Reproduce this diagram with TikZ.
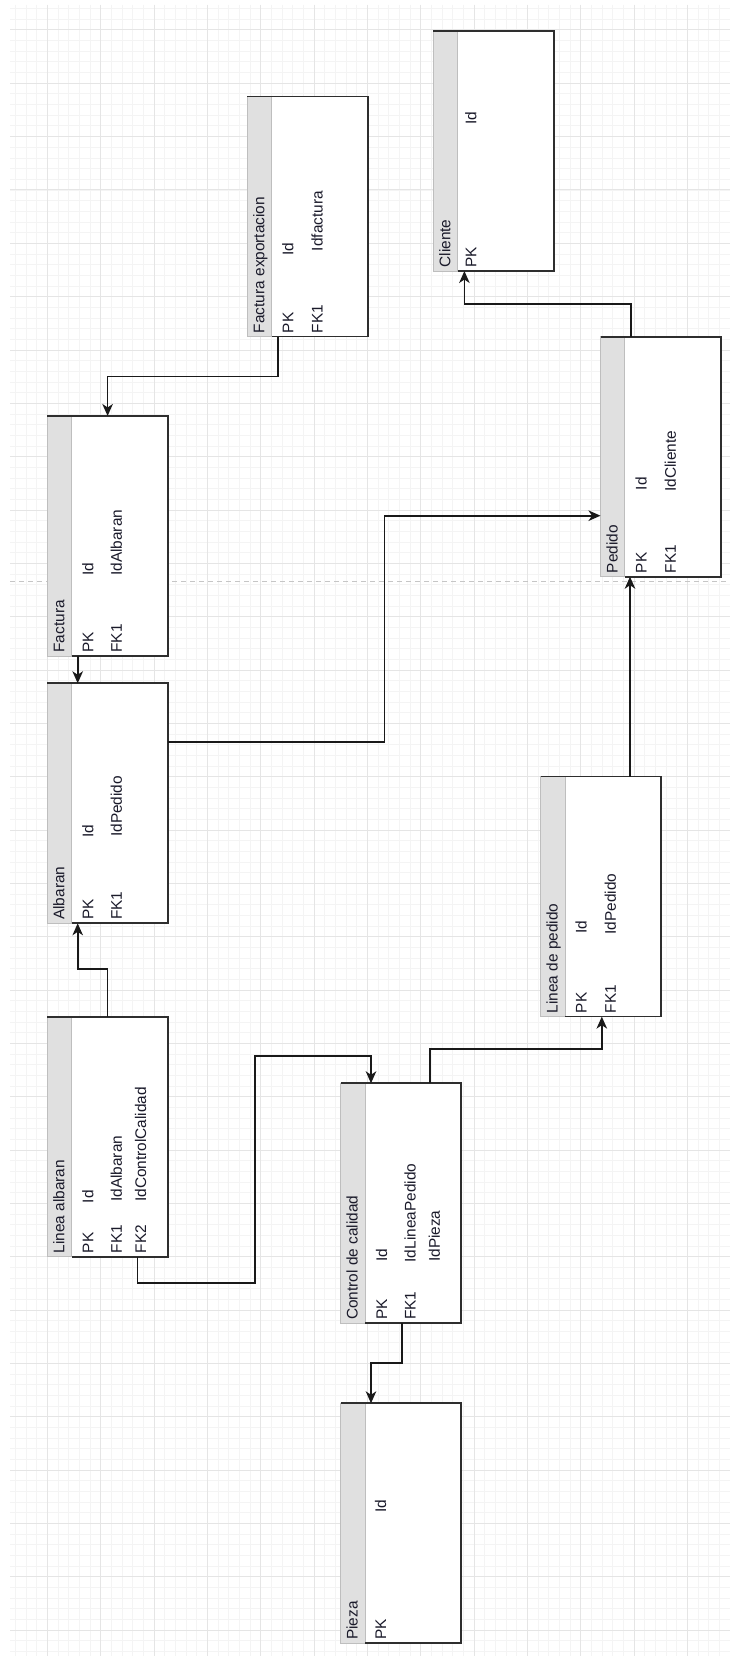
\documentclass[tikz,border=0pt]{standalone}
\usepackage{fontspec}
\setmainfont{Liberation Sans}
\usetikzlibrary{calc,arrows.meta}
\definecolor{gridminor}{HTML}{F4F4F4}
\definecolor{gridmajor}{HTML}{E5E5E5}
\definecolor{stripgray}{HTML}{E0E0E0}
\definecolor{edgegray}{HTML}{2E2E2E}
\definecolor{pagebreak}{HTML}{C6C6C6}
\definecolor{txtcol}{HTML}{1A1A2A}
\tikzset{
  tblbody/.style={rectangle, fill=white, draw=none, minimum width=120.4pt, minimum height=240pt, inner sep=0pt, outer sep=0pt},
  tbledge/.style={draw=edgegray, line width=1.7pt, line join=miter},
  stripbox/.style={fill=stripgray, draw=stripgray!85!black, line width=0.8pt},
  txt/.style={rotate=90, anchor=base west, inner sep=0pt, outer sep=0pt, font=\fontsize{15.4}{18}\selectfont, text=txtcol},
  conn/.style={draw=black!90, line width=1.7pt, -{Stealth[length=12pt,width=10.5pt,inset=3.5pt]}},
  gminor/.style={draw=gridminor, line width=1pt},
  gmajor/.style={draw=gridmajor, line width=1pt},
  pbreak/.style={draw=pagebreak, line width=1.5pt, dash pattern=on 5pt off 4pt},
}
\newcommand\erbox[4]{% name, left, top, title
  \node[tblbody] (#1) at ({#2+60.2},{#3+120}) {};
  \path[stripbox] (#1.north west) rectangle ($(#1.south west)+(24.3,0)$);
  \draw[tbledge] (#1.north west) -- (#1.north east) -- (#1.south east) -- ($(#1.south west)+(24.3,0)$);
  \node[txt] (#1-title) at ($(#1.south west)+(17,-3.5)$) {#4};
}
\newcommand\erfield[5]{% table, id, baseline dx, start dy from bottom, text
  \node[txt] (#1-#2) at ($(#1.south west)+(#3,-#4)$) {#5};
}
\begin{document}
\begin{tikzpicture}[x=1pt,y=-1pt]
\useasboundingbox (0,0) rectangle (730,1656);
\fill[white] (0,0) rectangle (730,1656);
% grid
\foreach \i in {0,...,66} \draw[gminor] ({15.5+\i*10.6667},5) -- ({15.5+\i*10.6667},1656);
\foreach \j in {0,...,154} \draw[gminor] (10,{8.667+\j*10.6667}) -- (730,{8.667+\j*10.6667});
\foreach \i in {0,...,12} \draw[gmajor] ({47.5+\i*53.333},5) -- ({47.5+\i*53.333},1656);
\foreach \j in {0,...,30} \draw[gmajor] (10,{30+\j*53.333}) -- (730,{30+\j*53.333});
% page break
\draw[pbreak] (10,581.5) -- (730,581.5);

% tables
\erbox{cl}{433.4}{31}{Cliente}
\erfield{cl}{pk}{43}{3.5}{PK}
\erfield{cl}{id}{43}{146}{Id}

\erbox{fe}{247.3}{96.5}{Factura exportacion}
\erfield{fe}{pk}{46}{3.5}{PK}
\erfield{fe}{fk}{75.4}{3.5}{FK1}
\erfield{fe}{id}{46}{81}{Id}
\erfield{fe}{f1}{75.4}{85.5}{Idfactura}

\erbox{pe}{600.5}{336.7}{Pedido}
\erfield{pe}{pk}{46}{3.5}{PK}
\erfield{pe}{fk}{75.3}{3.5}{FK1}
\erfield{pe}{id}{46}{86.5}{Id}
\erfield{pe}{f1}{75.3}{85}{IdCliente}

\erbox{fa}{47.4}{416}{Factura}
\erfield{fa}{pk}{46}{3.5}{PK}
\erfield{fa}{fk}{74.5}{3.5}{FK1}
\erfield{fa}{id}{46}{80.3}{Id}
\erfield{fa}{f1}{74.5}{80.3}{IdAlbaran}

\erbox{al}{47.4}{683.3}{Albaran}
\erfield{al}{pk}{46}{3.5}{PK}
\erfield{al}{fk}{74.5}{3.5}{FK1}
\erfield{al}{id}{46}{86}{Id}
\erfield{al}{f1}{74.5}{86.5}{IdPedido}

\erbox{lp}{540.6}{776.6}{Linea de pedido}
\erfield{lp}{pk}{46}{3.5}{PK}
\erfield{lp}{fk}{75.3}{3.5}{FK1}
\erfield{lp}{id}{46}{83.3}{Id}
\erfield{lp}{f1}{75.3}{82}{IdPedido}

\erbox{la}{47.4}{1016.7}{Linea albaran}
\erfield{la}{pk}{46}{3.5}{PK}
\erfield{la}{fk}{74.5}{3.5}{FK1}
\erfield{la}{fkb}{98.7}{3.5}{FK2}
\erfield{la}{id}{46}{53.5}{Id}
\erfield{la}{f1}{74.5}{55}{IdAlbaran}
\erfield{la}{f2}{98.7}{55}{IdControlCalidad}

\erbox{cc}{340.6}{1083.3}{Control de calidad}
\erfield{cc}{pk}{46.5}{3.5}{PK}
\erfield{cc}{fk}{75}{3.5}{FK1}
\erfield{cc}{id}{46.5}{61.5}{Id}
\erfield{cc}{f1}{75}{61}{IdLineaPedido}
\erfield{cc}{f2}{99.3}{61.5}{IdPieza}

\erbox{pz}{340.6}{1403.3}{Pieza}
\erfield{pz}{pk}{45.6}{3.5}{PK}
\erfield{pz}{id}{45.6}{130.6}{Id}

% connectors
\draw[conn] ($(fe.south west)+(30.4,0)$) -- ++(0,40) -| (fa.north);
\draw[conn] ($(pe.north west)+(30.2,0)$) -- ++(0,-32.7) -| ($(cl.south west)+(31,0)$);
\draw[conn] ($(fa.south west)+(30.3,0)$) -- ($(al.north west)+(30.3,0)$);
\draw[conn] ($(al.north east)+(0,58.4)$) -- ++(216.8,0) |- ($(pe.south west)+(0,-61)$);
\coordinate (lpout) at ($(lp.north west)+(89.4,0)$);
\draw[conn] (lpout) -- (lpout |- pe.south);
\draw[conn] (la.north) -- ++(0,-47.7) -| ($(al.south west)+(30.3,0)$);
\draw[conn] ($(la.south west)+(90,0)$) -- ++(0,26.2) -- ++(117.7,0) |- ($(cc.north west)+(30.4,-27.3)$) -- ($(cc.north west)+(30.4,0)$);
\draw[conn] ($(cc.north west)+(89.5,0)$) -- ++(0,-34.6) -| ($(lp.south west)+(61.2,0)$);
\draw[conn] ($(cc.south west)+(61.5,0)$) -- ++(0,39.7) -| ($(pz.north west)+(30.4,0)$);
\end{tikzpicture}
\end{document}
